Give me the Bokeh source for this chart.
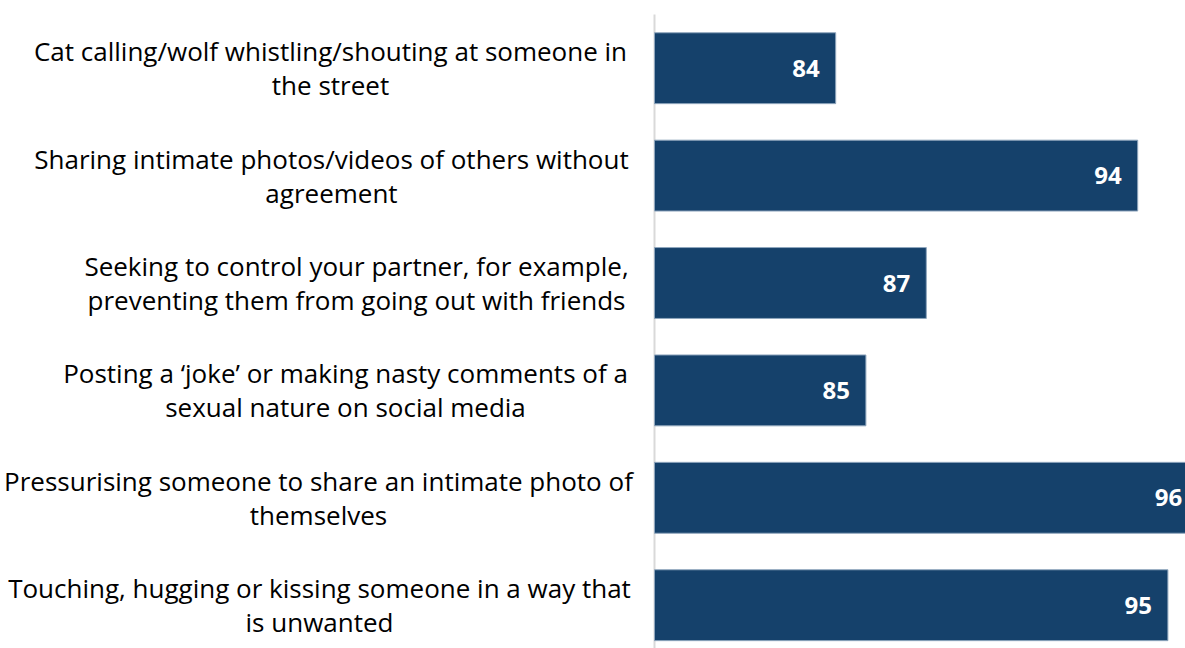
from bokeh.plotting import figure
from bokeh.models import Range1d, ColumnDataSource
from bokeh.core.properties import value
from bokeh.embed import file_html
from bokeh.resources import INLINE

# ---- data ----
categories = [
    ["Cat calling/wolf whistling/shouting at someone in", "the street"],
    ["Sharing intimate photos/videos of others without", "agreement"],
    ["Seeking to control your partner, for example,", "preventing them from going out with friends"],
    ["Posting a \u2018joke\u2019 or making nasty comments of a", "sexual nature on social media"],
    ["Pressurising someone to share an intimate photo of", "themselves"],
    ["Touching, hugging or kissing someone in a way that", "is unwanted"],
]
values = [84, 94, 87, 85, 96, 95]

# ---- style / layout ----
label_centers_px = [330, 331, 356, 345, 318, 319]  # page x of centred label lines
BAR_COLOR = "#15416B"
FONT = "Open Sans"

positions = list(range(len(values)))

W, H = 1185, 648
AXIS_PX = 654
TOP_PX = 14
px_per_val = 30.2
px_per_cat = 107.4
x0 = 78
x_start = x0 - AXIS_PX / px_per_val
x_end = x0 + (W - AXIS_PX) / px_per_val
y_first = -0.5
y_top = y_first - TOP_PX / px_per_cat
y_bottom = y_first + (H - TOP_PX) / px_per_cat

p = figure(width=W, height=H, output_backend="svg", toolbar_location=None,
           x_range=Range1d(x_start, x_end), y_range=Range1d(y_bottom, y_top),
           min_border=0)
p.outline_line_color = None
p.axis.visible = False
p.grid.visible = False
p.background_fill_color = "white"
p.border_fill_color = "white"

# vertical axis line
p.segment(x0=[x0], y0=[y_first], x1=[x0], y1=[y_bottom],
          line_color="#D9D9D9", line_width=2)

src = ColumnDataSource(dict(y=positions, v=values, left=[x0] * len(values),
                            t=[str(v) for v in values]))
p.hbar(y="y", left="left", right="v", height=0.66, source=src,
       fill_color=BAR_COLOR, line_color="#8FA6BD", line_width=1)
p.text(x="v", y="y", text="t", source=src, x_offset=-16,
       text_align="right", text_baseline="middle",
       text_font=value("Open Sans"), text_font_style="bold",
       text_font_size="24px", text_color="white")

line_off = 17 / px_per_cat
lx, ly, lt = [], [], []
for i, lines in enumerate(categories):
    cx = x_start + label_centers_px[i] / px_per_val
    n = len(lines)
    for j, ln in enumerate(lines):
        lx.append(cx)
        ly.append(positions[i] + (j - (n - 1) / 2) * 2 * line_off)
        lt.append(ln)
p.text(x=lx, y=ly, text=lt, text_align="center", text_baseline="middle",
       text_font=value(FONT), text_font_size="26px", text_color="black")

open("out.html", "w").write(file_html(p, INLINE))
